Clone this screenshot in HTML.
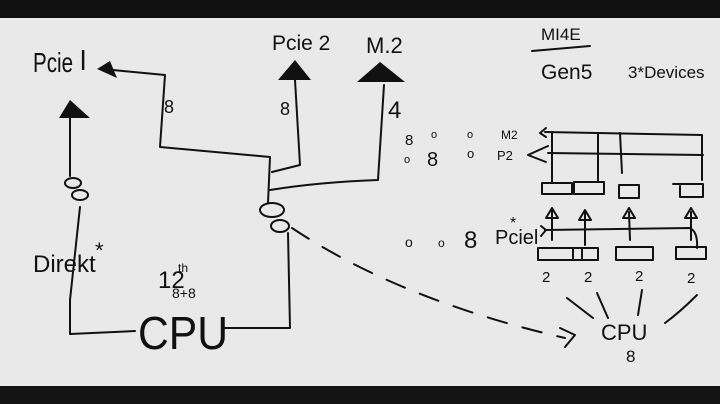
<!DOCTYPE html>
<html><head><meta charset="utf-8"><style>
html,body{margin:0;padding:0;background:#e9e9e9;width:720px;height:404px;overflow:hidden}
svg{display:block}
text{font-family:"Liberation Sans",sans-serif;fill:#111}
</style></head><body>
<svg width="720" height="404" viewBox="0 0 720 404" xmlns="http://www.w3.org/2000/svg">
<rect x="0" y="0" width="720" height="404" fill="#e9e9e9"/>
<rect x="0" y="0" width="720" height="18" fill="#111"/>
<rect x="0" y="386" width="720" height="18" fill="#141414"/>
<g fill="none" stroke="#111" stroke-width="2" stroke-linecap="round" stroke-linejoin="round">
<path d="M113,70 L165,75 L160,147 L270,157 L268,203"/>
<path d="M295,80 L300,165 L272,172"/>
<path d="M384,85 L378,180 Q320,182 270,190"/>
<path d="M70,118 L70,176"/>
<ellipse cx="73" cy="183" rx="8" ry="5"/>
<ellipse cx="80" cy="195" rx="8" ry="5"/>
<path d="M80,207 L70,300 L70,334 L135,331"/>
<path d="M225,328 L290,328 L288,233"/>
<ellipse cx="272" cy="210" rx="12" ry="7"/>
<ellipse cx="280" cy="226" rx="9" ry="6"/>
<path d="M292,228 Q400,300 565,338" stroke-dasharray="20,16"/>
<path d="M560,328 L575,335 L565,347"/>
<path d="M532,51 L590,46"/>
<path d="M545,132 L702,135 L702,180"/>
<path d="M548,153 L703,155"/>
<path d="M552,132 L552,182 M598,133 L598,182 M620,133 L622,173"/>
<path d="M540,133 L546,128 M540,133 L546,137"/>
<path d="M528,155 L548,146 M528,155 L546,162"/>
<rect x="542" y="183" width="30" height="11"/>
<rect x="574" y="182" width="30" height="12"/>
<rect x="619" y="185" width="20" height="13"/>
<path d="M673,184 L703,184 L703,197 L680,197 L680,186"/>
<path d="M552,240 L552,210 M585,245 L585,212 M630,240 L629,212 M691,240 L691,212"/>
<path d="M546,218 L552,208 L558,218 Z M579,220 L585,210 L591,220 Z M623,218 L629,208 L635,218 Z M685,218 L691,208 L697,218 Z"/>
<path d="M545,230 L690,228 Q698,232 697,248"/>
<path d="M541,226 L546,230 L541,236"/>
<rect x="538" y="248" width="44" height="12"/>
<rect x="573" y="248" width="25" height="12"/>
<rect x="616" y="247" width="37" height="13"/>
<rect x="676" y="247" width="30" height="12"/>
<path d="M567,298 L593,318 M597,293 L608,318 M642,290 L638,315 M697,295 Q680,312 665,323"/>
</g>
<g fill="#111">
<path d="M97,69 L110,61 L117,78 Z"/>
<path d="M295,60 L278,80 L311,80 Z"/>
<path d="M380,62 L357,82 L405,82 Z"/>
<path d="M70,100 L59,118 L90,118 Z"/>
</g>
<text x="33" y="72" font-size="28" textLength="40" lengthAdjust="spacingAndGlyphs">Pcie</text>
<text x="80" y="70" font-size="28">l</text>
<text x="164" y="113" font-size="18">8</text>
<text x="272" y="50" font-size="21">Pcie 2</text>
<text x="280" y="115" font-size="18">8</text>
<text x="366" y="53" font-size="22">M.2</text>
<text x="388" y="118" font-size="24">4</text>
<text x="33" y="272" font-size="24">Direkt</text>
<text x="95" y="258" font-size="22">*</text>
<text x="158" y="288" font-size="24">12</text>
<text x="178" y="272" font-size="12">th</text>
<text x="172" y="298" font-size="14">8+8</text>
<text x="138" y="349" font-size="46" textLength="90" lengthAdjust="spacingAndGlyphs">CPU</text>
<text x="541" y="40" font-size="17">MI4E</text>
<text x="541" y="79" font-size="21">Gen5</text>
<text x="628" y="78" font-size="17">3*Devices</text>
<text x="405" y="145" font-size="15">8</text>
<text x="404" y="163" font-size="11">o</text>
<text x="427" y="166" font-size="20">8</text>
<text x="431" y="138" font-size="11">o</text>
<text x="467" y="138" font-size="11">o</text>
<text x="467" y="158" font-size="13">o</text>
<text x="501" y="139" font-size="12">M2</text>
<text x="497" y="160" font-size="13">P2</text>
<text x="405" y="247" font-size="14">o</text>
<text x="438" y="247" font-size="12">o</text>
<text x="464" y="248" font-size="24">8</text>
<text x="495" y="244" font-size="20">Pciel</text>
<text x="510" y="228" font-size="16">*</text>
<text x="542" y="282" font-size="15">2</text>
<text x="584" y="282" font-size="15">2</text>
<text x="635" y="281" font-size="15">2</text>
<text x="687" y="283" font-size="15">2</text>
<text x="601" y="340" font-size="22">CPU</text>
<text x="626" y="362" font-size="17">8</text>
</svg>
</body></html>
